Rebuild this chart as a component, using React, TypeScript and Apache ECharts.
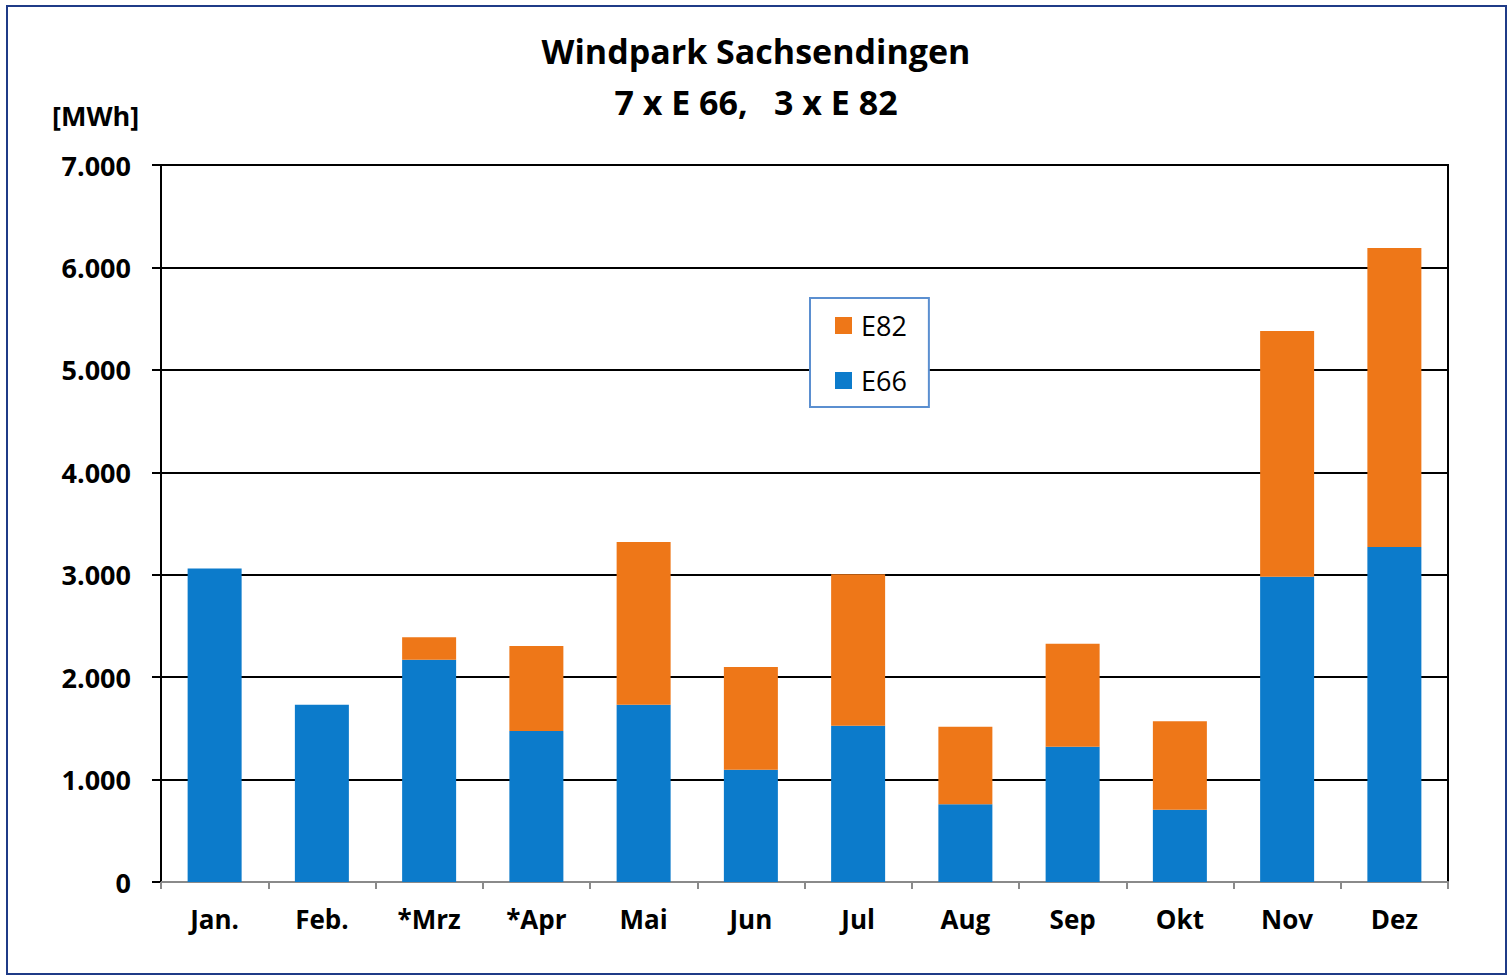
import React, { useEffect, useRef } from "react";
import * as echarts from "echarts";

const months = ["Jan.", "Feb.", "*Mrz", "*Apr", "Mai", "Jun", "Jul", "Aug", "Sep", "Okt", "Nov", "Dez"];
const e66 = [3060, 1730, 2170, 1475, 1730, 1095, 1525, 760, 1320, 705, 2980, 3270];
const e82 = [0, 0, 220, 830, 1590, 1005, 1480, 755, 1005, 865, 2400, 2920];
const titleLines = ["Windpark Sachsendingen", "7 x E 66,   3 x E 82"];
const unitLabel = "[MWh]";

const FONT = "'Open Sans', sans-serif";

export default function App() {
  const ref = useRef<HTMLDivElement>(null);
  useEffect(() => {
    const chart = echarts.init(ref.current!, null, { renderer: "svg" });
    chart.setOption({
      animation: false,
      backgroundColor: "#ffffff",
      title: {
        text: titleLines.join("\n"),
        left: "center",
        top: 20,
        textStyle: { fontFamily: FONT, fontWeight: "bold", fontSize: 34, color: "#000", lineHeight: 51 },
      },
      graphic: [
        {
          type: "rect",
          shape: { x: 7, y: 6, width: 1499, height: 968 },
          style: { fill: "none", stroke: "#1F3B87", lineWidth: 2 },
          silent: true,
        },
        {
          type: "text",
          x: 52,
          y: 115,
          style: { text: unitLabel, fontFamily: FONT, fontWeight: "bold", fontSize: 27, fill: "#000", verticalAlign: "middle" },
        },
      ],
      legend: {
        orient: "vertical",
        left: 810,
        top: 298,
        data: ["E82", "E66"],
        icon: "rect",
        itemWidth: 17,
        itemHeight: 17,
        itemGap: 28,
        backgroundColor: "#fff",
        borderColor: "#5B8FD0",
        borderWidth: 2,
        padding: [14, 22, 13, 25],
        textStyle: { fontFamily: FONT, fontSize: 27, color: "#000", padding: [0, 0, 0, 4] },
      },
      grid: {
        left: 161,
        right: 64,
        top: 165,
        bottom: 94,
        show: true,
        borderColor: "#000",
        borderWidth: 2,
        backgroundColor: "transparent",
      },
      xAxis: {
        type: "category",
        data: months,
        axisLine: { lineStyle: { color: "#8a8a8a", width: 2 } },
        axisTick: { show: true, length: 7, lineStyle: { color: "#8a8a8a", width: 2 } },
        axisLabel: { fontFamily: FONT, fontWeight: "bold", fontSize: 26, color: "#000", margin: 24 },
      },
      yAxis: {
        type: "value",
        min: 0,
        max: 7000,
        interval: 1000,
        axisLine: { show: true, lineStyle: { color: "#000", width: 2 } },
        axisTick: { show: true, length: 9, lineStyle: { color: "#000", width: 2 } },
        splitLine: { lineStyle: { color: "#000", width: 2 } },
        axisLabel: {
          fontFamily: FONT,
          fontWeight: "bold",
          fontSize: 27,
          color: "#000",
          margin: 30,
          formatter: (v: number) => v.toLocaleString("de-DE"),
        },
      },
      series: [
        {
          name: "E66",
          type: "bar",
          stack: "total",
          data: e66,
          barWidth: 54,
          itemStyle: { color: "#0C7BCB" },
        },
        {
          name: "E82",
          type: "bar",
          stack: "total",
          data: e82,
          barWidth: 54,
          itemStyle: { color: "#EE7718" },
        },
      ],
    });
    return () => chart.dispose();
  }, []);
  return <div ref={ref} style={{ position: "fixed", left: 0, top: 0, width: 1512, height: 976 }} />;
}
